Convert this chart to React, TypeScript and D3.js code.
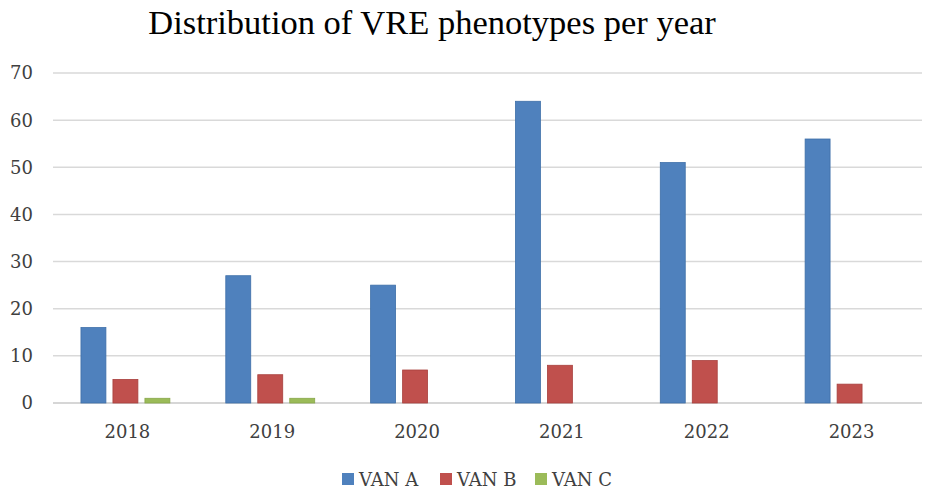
import * as d3 from 'd3';
import { useEffect, useRef } from 'react';

const years = ['2018', '2019', '2020', '2021', '2022', '2023'];
const series = ['VAN A', 'VAN B', 'VAN C'];
const vanA = [16, 27, 25, 64, 51, 56];
const vanB = [5, 6, 7, 8, 9, 4];
const vanC = [1, 1, 0, 0, 0, 0];
const yTicks = [0, 10, 20, 30, 40, 50, 60, 70];
const colors = ['#4F81BD', '#C0504D', '#9BBB59'];
const strokes = ['#3E6FA8', '#A8403D', '#88A74A'];

export default function App() {
  const svgRef = useRef<SVGSVGElement>(null);

  useEffect(() => {
    const width = 935;
    const height = 494;
    const margin = { top: 73, right: 13, bottom: 91, left: 53 };
    const titleFont = '"Liberation Serif", "Times New Roman", serif';
    const font = '"DejaVu Serif", serif';

    const svg = d3.select(svgRef.current);
    svg.selectAll('*').remove();

    const x0 = d3.scaleBand().domain(years).range([margin.left, width - margin.right]).padding(0);
    const bw = x0.bandwidth();
    const x1 = d3
      .scaleBand()
      .domain(series)
      .range([bw * 0.193, bw * 0.807])
      .paddingInner(0.22)
      .paddingOuter(0);
    const y = d3.scaleLinear().domain([0, 70]).range([height - margin.bottom, margin.top]);

    // grid
    svg
      .append('g')
      .selectAll('line')
      .data(yTicks)
      .enter()
      .append('line')
      .attr('x1', margin.left)
      .attr('x2', width - margin.right)
      .attr('y1', (d) => y(d))
      .attr('y2', (d) => y(d))
      .attr('stroke', (d) => (d === 0 ? '#c8c8c8' : '#d9d9d9'))
      .attr('stroke-width', 1.5);

    // y labels
    svg
      .append('g')
      .selectAll('text')
      .data(yTicks)
      .enter()
      .append('text')
      .attr('x', 33)
      .attr('y', (d) => y(d))
      .attr('dy', '0.36em')
      .attr('text-anchor', 'end')
      .attr('font-family', font)
      .attr('font-size', 18)
      .attr('fill', '#404040')
      .text((d) => d);

    const data = [vanA, vanB, vanC];
    const groups = svg
      .append('g')
      .selectAll('g')
      .data(years)
      .enter()
      .append('g')
      .attr('transform', (d) => `translate(${x0(d)},0)`);

    groups
      .selectAll('rect')
      .data((d, i) => series.map((s, k) => ({ s, k, v: data[k][i] })).filter((e) => e.v > 0))
      .enter()
      .append('rect')
      .attr('x', (d) => x1(d.s) as number)
      .attr('width', x1.bandwidth())
      .attr('y', (d) => y(d.v))
      .attr('height', (d) => y(0) - y(d.v))
      .attr('fill', (d) => colors[d.k])
      .attr('stroke', (d) => strokes[d.k])
      .attr('stroke-width', 0.8);

    // x labels
    svg
      .append('g')
      .selectAll('text')
      .data(years)
      .enter()
      .append('text')
      .attr('x', (d) => (x0(d) as number) + bw / 2 + 2)
      .attr('y', 438)
      .attr('text-anchor', 'middle')
      .attr('font-family', font)
      .attr('font-size', 18)
      .attr('fill', '#404040')
      .text((d) => d);

    // title
    svg
      .append('text')
      .attr('x', 432)
      .attr('y', 34)
      .attr('text-anchor', 'middle')
      .attr('font-family', titleFont)
      .attr('font-size', 34.5)
      .attr('fill', '#000')
      .text('Distribution of VRE phenotypes per year');

    // legend
    const legendX = [342, 440, 535];
    const lg = svg
      .append('g')
      .selectAll('g')
      .data(series)
      .enter()
      .append('g')
      .attr('transform', (d, i) => `translate(${legendX[i]},473)`);
    lg.append('rect')
      .attr('width', 12)
      .attr('height', 12)
      .attr('fill', (d, i) => colors[i]);
    lg.append('text')
      .attr('x', 17)
      .attr('y', 13)
      .attr('font-family', font)
      .attr('font-size', 18)
      .attr('fill', '#404040')
      .text((d) => d);
  }, []);

  return <svg ref={svgRef} width={935} height={494} style={{ position: 'absolute', left: 0, top: 0 }}></svg>;
}
